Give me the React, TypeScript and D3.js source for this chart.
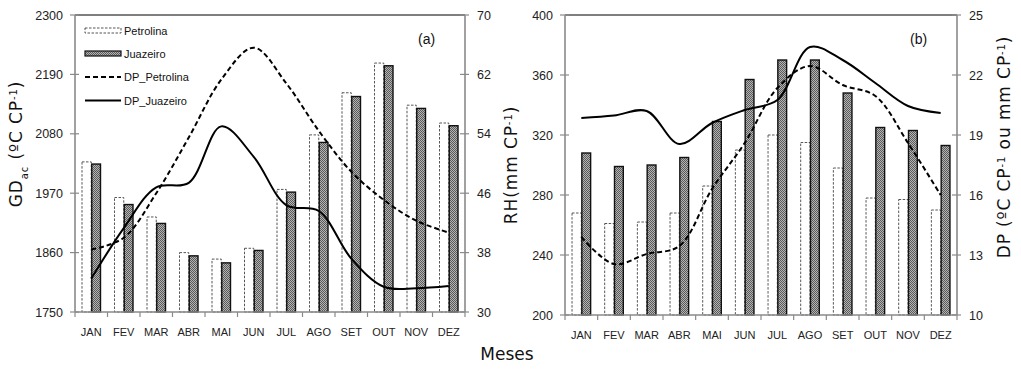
import { useEffect, useRef } from 'react'
import * as d3 from 'd3'

const months = ['JAN', 'FEV', 'MAR', 'ABR', 'MAI', 'JUN', 'JUL', 'AGO', 'SET', 'OUT', 'NOV', 'DEZ']

// panel (a): accumulated degree-days (bars) and their standard deviation (lines)
const gdPetrolina = [2028, 1962, 1926, 1860, 1848, 1868, 1977, 2078, 2156, 2211, 2133, 2100]
const gdJuazeiro = [2024, 1949, 1914, 1854, 1841, 1864, 1972, 2064, 2149, 2206, 2127, 2095]
const dpGdPetrolina = [38.4, 40.0, 46.0, 53.5, 61.3, 65.6, 60.8, 54.4, 48.9, 45.1, 42.3, 40.7]
const dpGdJuazeiro = [34.5, 41.3, 46.8, 47.4, 55.0, 50.9, 44.4, 43.6, 37.2, 33.4, 33.2, 33.5]
const gdTicks = [1750, 1860, 1970, 2080, 2190, 2300]
const dpGdTicks = [30, 38, 46, 54, 62, 70]

// panel (b): water demand (bars) and standard deviation (lines)
const rhPetrolina = [268, 261, 262, 268, 286, 310, 320, 315, 298, 278, 277, 270]
const rhJuazeiro = [308, 299, 300, 305, 329, 357, 370, 370, 348, 325, 323, 313]
const dpRhPetrolina = [13.9, 12.55, 13.05, 13.45, 16.3, 18.6, 21.35, 22.45, 21.5, 20.95, 18.6, 16.0]
const dpRhJuazeiro = [19.85, 19.97, 20.2, 18.55, 19.6, 20.25, 20.75, 23.4, 22.75, 21.6, 20.45, 20.1]
const rhTicks = [200, 240, 280, 320, 360, 400]
const dpRhTicks = [10, 13, 16, 19, 22, 25]

const FONT = 'Liberation Sans, Arial, sans-serif'
const TITLE_FONT = 'DejaVu Sans, Verdana, sans-serif'
const AXIS_GREY = '#8a8a8a'

type PanelCfg = {
  left: number
  right: number
  top: number
  bottom: number
  barsP: number[]
  barsJ: number[]
  lineP: number[]
  lineJ: number[]
  leftTicks: number[]
  rightTicks: number[]
  tag: string
}

function drawPanel(svg: d3.Selection<SVGSVGElement, unknown, null, undefined>, c: PanelCfg) {
  const g = svg.append('g')

  const x = d3.scaleBand<string>()
    .domain(months)
    .range([c.left, c.right])
    .paddingInner(0.4)
    .paddingOuter(0.2)
  const step = (c.right - c.left) / months.length
  const yL = d3.scaleLinear()
    .domain([c.leftTicks[0], c.leftTicks[c.leftTicks.length - 1]])
    .range([c.bottom, c.top])
  const yR = d3.scaleLinear()
    .domain([c.rightTicks[0], c.rightTicks[c.rightTicks.length - 1]])
    .range([c.bottom, c.top])
  const bw = x.bandwidth() / 2

  // Petrolina bars: white with dashed outline
  g.selectAll('rect.bp')
    .data(c.barsP)
    .enter()
    .append('rect')
    .attr('class', 'bp')
    .attr('x', (_, i) => x(months[i])! + 0.5)
    .attr('y', d => yL(d))
    .attr('width', bw - 0.5)
    .attr('height', d => c.bottom - yL(d))
    .style('fill', '#fff')
    .style('stroke', '#444')
    .style('stroke-width', '0.9px')
    .style('stroke-dasharray', '2.5,1.5')

  // Juazeiro bars: dotted grey with black outline
  g.selectAll('rect.bj')
    .data(c.barsJ)
    .enter()
    .append('rect')
    .attr('class', 'bj')
    .attr('x', (_, i) => x(months[i])! + bw + 0.5)
    .attr('y', d => yL(d))
    .attr('width', bw - 1)
    .attr('height', d => c.bottom - yL(d))
    .style('fill', 'url(#dots)')
    .style('stroke', '#111')
    .style('stroke-width', '1.4px')

  // Frame
  g.append('line')
    .attr('x1', c.left).attr('x2', c.right)
    .attr('y1', c.top).attr('y2', c.top)
    .style('stroke', '#555').style('stroke-width', '1.6px')
  g.append('line')
    .attr('x1', c.left).attr('x2', c.left)
    .attr('y1', c.top).attr('y2', c.bottom)
    .style('stroke', AXIS_GREY).style('stroke-width', '1.6px')
  g.append('line')
    .attr('x1', c.right).attr('x2', c.right)
    .attr('y1', c.top).attr('y2', c.bottom)
    .style('stroke', AXIS_GREY).style('stroke-width', '1.6px')
  g.append('line')
    .attr('x1', c.left).attr('x2', c.right)
    .attr('y1', c.bottom).attr('y2', c.bottom)
    .style('stroke', AXIS_GREY).style('stroke-width', '1.6px')

  // Category ticks
  d3.range(months.length + 1).forEach(i => {
    const tx = c.left + i * step
    g.append('line')
      .attr('x1', tx).attr('x2', tx)
      .attr('y1', c.bottom).attr('y2', c.bottom + 5)
      .style('stroke', AXIS_GREY).style('stroke-width', '1.2px')
  })

  months.forEach(m => {
    g.append('text')
      .attr('x', x(m)! + x.bandwidth() / 2)
      .attr('y', c.bottom + 24)
      .attr('text-anchor', 'middle')
      .style('fill', '#222')
      .style('font-size', '11px')
      .style('font-family', FONT)
      .text(m)
  })

  // Left axis ticks
  c.leftTicks.forEach(t => {
    g.append('line')
      .attr('x1', c.left - 5).attr('x2', c.left + 4)
      .attr('y1', yL(t)).attr('y2', yL(t))
      .style('stroke', AXIS_GREY).style('stroke-width', '1.2px')
    g.append('text')
      .attr('x', c.left - 12)
      .attr('y', yL(t) + 4.5)
      .attr('text-anchor', 'end')
      .style('fill', '#222')
      .style('font-size', '12.5px')
      .style('font-family', FONT)
      .text(t)
  })

  // Right axis ticks
  c.rightTicks.forEach(t => {
    g.append('line')
      .attr('x1', c.right - 5).attr('x2', c.right + 4)
      .attr('y1', yR(t)).attr('y2', yR(t))
      .style('stroke', AXIS_GREY).style('stroke-width', '1.2px')
    g.append('text')
      .attr('x', c.right + 12)
      .attr('y', yR(t) + 4.5)
      .attr('text-anchor', 'start')
      .style('fill', '#222')
      .style('font-size', '12.5px')
      .style('font-family', FONT)
      .text(t)
  })

  // DP lines (smoothed)
  const line = d3.line<number>()
    .x((_, i) => x(months[i])! + x.bandwidth() / 2)
    .y(d => yR(d))
    .curve(d3.curveCatmullRom.alpha(0.5))

  g.append('path')
    .attr('d', line(c.lineP))
    .style('fill', 'none')
    .style('stroke', '#000')
    .style('stroke-width', '2px')
    .style('stroke-dasharray', '5,3')

  g.append('path')
    .attr('d', line(c.lineJ))
    .style('fill', 'none')
    .style('stroke', '#000')
    .style('stroke-width', '2px')

  g.append('text')
    .attr('x', c.right - 47)
    .attr('y', c.top + 29)
    .style('fill', '#111')
    .style('font-size', '14px')
    .style('font-family', FONT)
    .text(c.tag)
}

function addTitle(
  svg: d3.Selection<SVGSVGElement, unknown, null, undefined>,
  x: number,
  y: number,
  parts: [string, string][]
) {
  const t = svg.append('text')
    .attr('transform', `translate(${x},${y}) rotate(-90)`)
    .attr('text-anchor', 'middle')
    .style('fill', '#111')
    .style('font-size', '17px')
    .style('letter-spacing', '0.9px')
    .style('font-family', TITLE_FONT)
  parts.forEach(([kind, s]) => {
    const sp = t.append('tspan').text(s)
    if (kind === 'sup') sp.attr('baseline-shift', 'super').style('font-size', '10px')
    if (kind === 'sub') sp.attr('baseline-shift', 'sub').style('font-size', '10px')
  })
}

export default function App() {
  const svgRef = useRef<SVGSVGElement>(null)

  useEffect(() => {
    if (!svgRef.current) return
    const svg = d3.select(svgRef.current)
    svg.selectAll('*').remove()

    const defs = svg.append('defs')
    const pat = defs.append('pattern')
      .attr('id', 'dots')
      .attr('width', 2)
      .attr('height', 2)
      .attr('patternUnits', 'userSpaceOnUse')
    pat.append('rect').attr('width', 2).attr('height', 2).style('fill', '#b4b4b4')
    pat.append('rect').attr('width', 1).attr('height', 1).style('fill', '#5a5a5a')
    pat.append('rect').attr('x', 1).attr('y', 1).attr('width', 1).attr('height', 1).style('fill', '#5a5a5a')

    drawPanel(svg, {
      left: 75, right: 465, top: 15, bottom: 312,
      barsP: gdPetrolina, barsJ: gdJuazeiro,
      lineP: dpGdPetrolina, lineJ: dpGdJuazeiro,
      leftTicks: gdTicks, rightTicks: dpGdTicks, tag: '(a)'
    })
    drawPanel(svg, {
      left: 565, right: 957, top: 15, bottom: 315,
      barsP: rhPetrolina, barsJ: rhJuazeiro,
      lineP: dpRhPetrolina, lineJ: dpRhJuazeiro,
      leftTicks: rhTicks, rightTicks: dpRhTicks, tag: '(b)'
    })

    // Legend (panel a)
    const lg = svg.append('g')
    const lx = 85
    const lw = 36
    const rows = [30.5, 53.5, 77, 100.5]
    lg.append('rect')
      .attr('x', lx).attr('y', rows[0] - 2.5).attr('width', lw).attr('height', 5)
      .style('fill', '#fff').style('stroke', '#444').style('stroke-width', '0.9px')
      .style('stroke-dasharray', '2.5,1.5')
    lg.append('rect')
      .attr('x', lx).attr('y', rows[1] - 2.5).attr('width', lw).attr('height', 5)
      .style('fill', 'url(#dots)').style('stroke', '#111').style('stroke-width', '1.2px')
    lg.append('line')
      .attr('x1', lx).attr('x2', lx + lw).attr('y1', rows[2]).attr('y2', rows[2])
      .style('stroke', '#000').style('stroke-width', '2px').style('stroke-dasharray', '5,3')
    lg.append('line')
      .attr('x1', lx).attr('x2', lx + lw).attr('y1', rows[3]).attr('y2', rows[3])
      .style('stroke', '#000').style('stroke-width', '2px')
    const names = ['Petrolina', 'Juazeiro', 'DP_Petrolina', 'DP_Juazeiro']
    names.forEach((n, i) => {
      lg.append('text')
        .attr('x', lx + lw + 3)
        .attr('y', rows[i] + 4)
        .style('fill', '#111')
        .style('font-size', '11px')
        .style('font-family', FONT)
        .text(n)
    })

    // Axis titles
    addTitle(svg, 22, 144, [['', 'GD'], ['sub', 'ac'], ['', ' (ºC CP'], ['sup', '-1'], ['', ')']])
    addTitle(svg, 517, 165, [['', 'RH(mm CP'], ['sup', '-1'], ['', ')']])
    addTitle(svg, 1010, 147, [['', 'DP (ºC CP'], ['sup', '-1'], ['', ' ou mm CP'], ['sup', '-1'], ['', ')']])

    svg.append('text')
      .attr('x', 507)
      .attr('y', 360)
      .attr('text-anchor', 'middle')
      .style('fill', '#111')
      .style('font-size', '17px')
      .style('font-family', TITLE_FONT)
      .text('Meses')
  }, [])

  return (
    <svg
      ref={svgRef}
      width={1021}
      height={374}
      style={{ position: 'absolute', left: 0, top: 0, background: '#fff' }}
    />
  )
}
